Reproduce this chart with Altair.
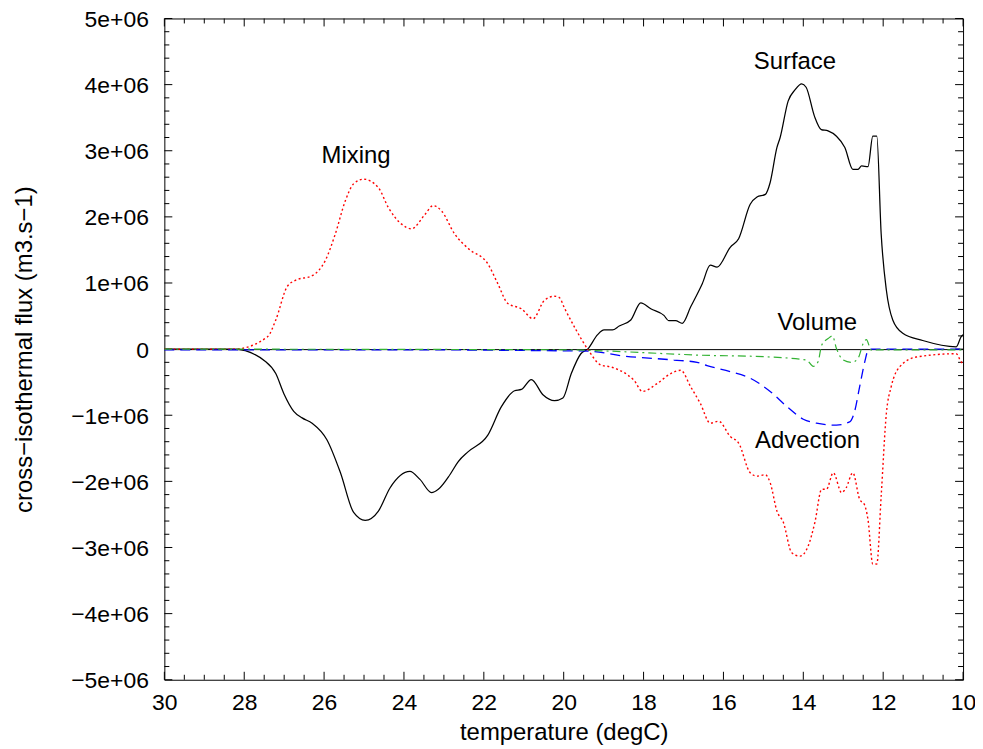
import altair as alt
import pandas as pd

# ---- data (temperature in degC, flux in units of 1e6 m3/s) ----
surf_t = [30, 28.25, 27.46, 27.21, 27.01, 26.76, 26.55, 26.30, 25.93, 25.59, 25.26, 24.97,
          24.64, 24.35, 23.85, 23.60, 23.31, 23.14, 22.85, 22.64, 22.39, 21.90, 21.56, 21.23,
          21.06, 20.81, 20.52, 20.23, 20.02, 19.81, 19.57, 19.40, 19.15, 18.99, 18.78, 18.61,
          18.32, 18.07, 17.82, 17.49, 17.37, 17.20, 17.03, 16.82, 16.53, 16.33, 16.16, 15.83,
          15.62, 15.33, 15.16, 14.95, 14.83, 14.66, 14.58, 14.38, 14.21, 14.04, 13.93, 13.72,
          13.55, 13.38, 13.17, 12.96, 12.76, 12.63, 12.54, 12.38, 12.26, 12.16, 12.05, 11.92,
          11.76, 11.51, 11.01, 10.17, 10.05, 10.0]
surf_v = [0, 0, -0.19, -0.37, -0.67, -0.94, -1.04, -1.12, -1.37, -1.87, -2.47, -2.59,
          -2.45, -2.10, -1.85, -1.97, -2.17, -2.12, -1.90, -1.70, -1.55, -1.30, -0.87, -0.63,
          -0.61, -0.46, -0.69, -0.78, -0.74, -0.37, -0.07, 0.0, 0.22, 0.29, 0.29, 0.35,
          0.44, 0.70, 0.61, 0.51, 0.43, 0.43, 0.39, 0.64, 0.99, 1.27, 1.24, 1.54,
          1.67, 2.19, 2.30, 2.34, 2.52, 3.05, 3.20, 3.75, 3.92, 4.01, 3.96, 3.52,
          3.32, 3.30, 3.22, 3.05, 2.72, 2.72, 2.77, 2.76, 3.22, 3.22, 1.74, 0.89,
          0.44, 0.24, 0.13, 0.035, 0.185, 0.22]

mix_t = [30, 28.25, 27.42, 27.21, 26.93, 26.72, 26.30, 25.97, 25.72, 25.47, 25.26, 25.01,
         24.64, 24.39, 24.06, 23.81, 23.47, 23.27, 23.06, 22.73, 22.39, 21.90, 21.65, 21.40,
         21.06, 20.77, 20.48, 20.23, 20.11, 19.98, 19.69, 19.40, 19.07, 18.82, 18.40, 18.24,
         18.03, 17.66, 17.32, 17.07, 16.82, 16.58, 16.33, 16.12, 15.83, 15.62, 15.33, 15.16,
         14.95, 14.83, 14.66, 14.50, 14.29, 14.08, 13.88, 13.71, 13.54, 13.42, 13.25, 13.04,
         12.93, 12.76, 12.59, 12.47, 12.38, 12.26, 12.16, 12.05, 11.92, 11.80, 11.59, 11.17,
         10.17, 10.05, 10.0]
mix_v = [0, 0, 0.185, 0.44, 0.94, 1.04, 1.11, 1.34, 1.74, 2.24, 2.50, 2.57,
         2.44, 2.14, 1.89, 1.82, 2.04, 2.17, 2.09, 1.74, 1.52, 1.29, 0.99, 0.69,
         0.61, 0.46, 0.74, 0.80, 0.78, 0.62, 0.29, 0.0, -0.24, -0.27, -0.39, -0.47,
         -0.64, -0.52, -0.37, -0.32, -0.57, -0.82, -1.12, -1.09, -1.32, -1.42, -1.87, -1.92,
         -1.90, -2.02, -2.45, -2.62, -3.08, -3.13, -2.98, -2.62, -2.12, -2.12, -1.87, -2.17,
         -2.10, -1.87, -2.27, -2.35, -2.58, -3.25, -3.25, -2.22, -0.97, -0.57, -0.27, -0.12,
         -0.07, -0.19, -0.22]

adv_t = [30, 28, 24, 21, 20.15, 19.40, 18.49, 17.24, 16.66, 16.41, 15.83, 15.33, 14.83,
         14.41, 14.0, 13.67, 13.17, 12.84, 12.71, 12.59, 12.46, 12.38, 12.30, 10.0]
adv_v = [-0.01, -0.01, -0.01, -0.02, -0.025, -0.03, -0.105, -0.165, -0.20, -0.25, -0.34, -0.44, -0.64,
         -0.87, -1.06, -1.12, -1.15, -1.10, -0.93, -0.57, -0.19, -0.02, 0.0, 0.0]

vol_t = [30, 20, 19.32, 17.24, 16.66, 15.0, 13.92, 13.75, 13.63, 13.54, 13.38, 13.27, 13.17,
         13.0, 12.79, 12.63, 12.50, 12.42, 12.30, 12.0, 10.0]
vol_v = [0.0, -0.01, -0.02, -0.075, -0.09, -0.115, -0.165, -0.26, -0.19, 0.06, 0.16, 0.20, 0.01,
         -0.165, -0.20, -0.14, 0.085, 0.145, -0.015, -0.01, -0.01]

label_text = ["Mixing", "Surface", "Volume", "Advection"]
label_temp = [25.20, 14.21, 13.65, 13.895]
label_flux = [2.82, 4.23, 0.286, -1.495]

x_tick_labels = [10, 12, 14, 16, 18, 20, 22, 24, 26, 28, 30]
x_minor = [10 + 0.5 * i for i in range(41)]
y_tick_labels = [-5, -4, -3, -2, -1, 0, 1, 2, 3, 4, 5]
y_minor = [round(-5 + 0.2 * i, 1) for i in range(51)]

# ---- layout ----
W, H = 802, 664
FONT = "Liberation Sans"

x_enc = alt.X(
    "temp:Q",
    scale=alt.Scale(domain=[10, 30], reverse=True, nice=False, zero=False),
    axis=alt.Axis(values=x_tick_labels, title="temperature (degC)", labelPadding=12,
                  labelFlush=False, labelOverlap=False, titleY=60,
                  titleBaseline="alphabetic", format="d"),
)
y_enc = alt.Y(
    "flux:Q",
    scale=alt.Scale(domain=[-5, 5], nice=False, zero=False),
    axis=alt.Axis(values=y_tick_labels, title="cross−isothermal flux (m3.s−1)",
                  labelPadding=16, labelOverlap=False, labelFlush=False,
                  labelBaseline="alphabetic", labelOffset=8,
                  labelExpr="datum.value == 0 ? '0' : (datum.value < 0 ? '−' + (-datum.value) : '' + datum.value) + 'e+06'",
                  titleX=-133, titleY=H / 2, titleAngle=-90, titleAlign="center",
                  titleBaseline="alphabetic"),
)


def df(t, v):
    return pd.DataFrame({"temp": t, "flux": v})


zero = alt.Chart(pd.DataFrame({"flux": [0]})).mark_rule(
    color="black", strokeWidth=1, yOffset=0.5).encode(y=y_enc)

surface = alt.Chart(df(surf_t, surf_v)).mark_line(
    color="black", strokeWidth=1.25, interpolate="monotone").encode(x=x_enc, y=y_enc)
mixing = alt.Chart(df(mix_t, mix_v)).mark_line(
    color="#ff0000", strokeWidth=1.4, strokeDash=[2, 2.6], interpolate="monotone").encode(x=x_enc, y=y_enc)
advection = alt.Chart(df(adv_t, adv_v)).mark_line(
    color="#0000ff", strokeWidth=1.3, strokeDash=[10, 6], interpolate="monotone").encode(x=x_enc, y=y_enc)
volume = alt.Chart(df(vol_t, vol_v)).mark_line(
    color="#33b233", strokeWidth=1.2, strokeDash=[8, 4, 2, 4], interpolate="monotone").encode(x=x_enc, y=y_enc)

labels = alt.Chart(pd.DataFrame({"temp": label_temp, "flux": label_flux, "label": label_text})).mark_text(
    font=FONT, fontSize=24, color="black", align="center", baseline="alphabetic"
).encode(x=x_enc, y=y_enc, text="label:N")

# inward gnuplot-style ticks on all four sides
xmaj = pd.DataFrame({"temp": x_tick_labels})
xmin = pd.DataFrame({"temp": [v for v in x_minor if v not in x_tick_labels]})
ymaj = pd.DataFrame({"flux": y_tick_labels})
ymin = pd.DataFrame({"flux": [v for v in y_minor if v not in y_tick_labels]})

tick = dict(color="black", strokeWidth=1)
ticks = [
    alt.Chart(xmaj).mark_rule(**tick).encode(x=x_enc, y=alt.value(H), y2=alt.value(H - 8)),
    alt.Chart(xmaj).mark_rule(**tick).encode(x=x_enc, y=alt.value(0), y2=alt.value(8)),
    alt.Chart(xmin).mark_rule(**tick).encode(x=x_enc, y=alt.value(H), y2=alt.value(H - 5)),
    alt.Chart(xmin).mark_rule(**tick).encode(x=x_enc, y=alt.value(0), y2=alt.value(5)),
    alt.Chart(ymaj).mark_rule(**tick).encode(y=y_enc, x=alt.value(0), x2=alt.value(8)),
    alt.Chart(ymaj).mark_rule(**tick).encode(y=y_enc, x=alt.value(W), x2=alt.value(W - 8)),
    alt.Chart(ymin).mark_rule(**tick).encode(y=y_enc, x=alt.value(0), x2=alt.value(5)),
    alt.Chart(ymin).mark_rule(**tick).encode(y=y_enc, x=alt.value(W), x2=alt.value(W - 5)),
]

chart = alt.layer(
    zero, *ticks, surface, mixing, advection, volume, labels
).properties(
    width=W, height=H,
    autosize=alt.AutoSizeParams(type="none"),
    padding={"left": 157, "top": 9, "right": 12, "bottom": 66},
    background="white",
).configure_view(
    stroke="black", strokeWidth=1
).configure_axis(
    domain=False, ticks=False, tickSize=0, grid=False,
    labelFont=FONT, labelFontSize=23, labelColor="black",
    titleFont=FONT, titleFontSize=24, titleFontWeight="normal", titleColor="black",
)

chart.save("out.html", embed_options={"renderer": "svg", "actions": False})
